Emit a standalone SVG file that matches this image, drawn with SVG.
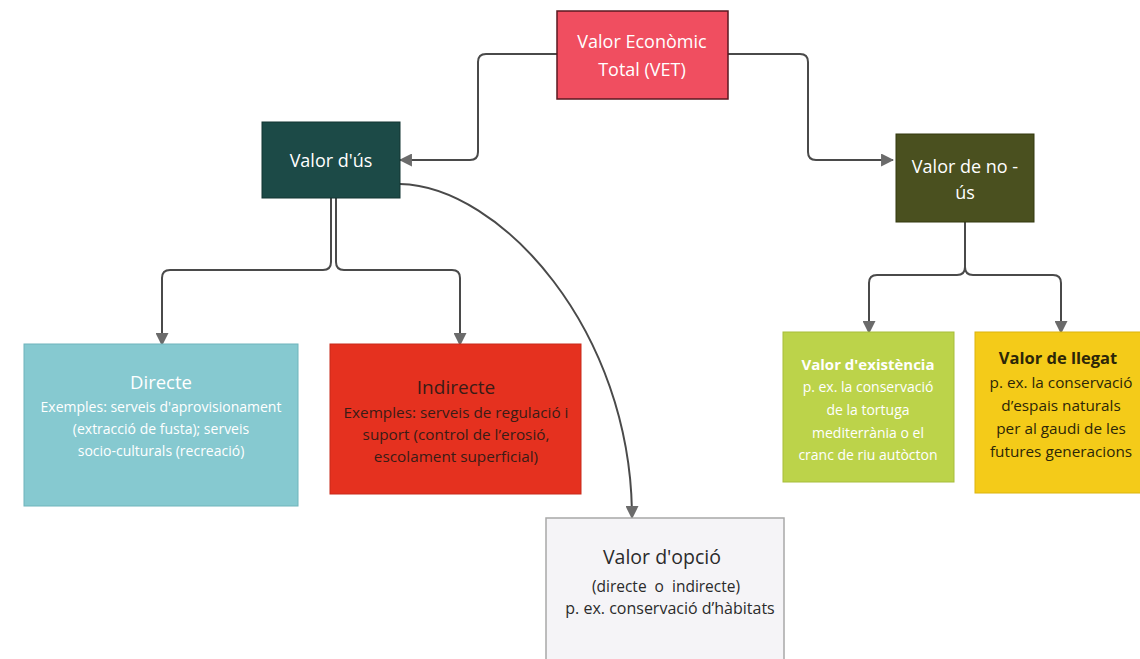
<svg xmlns="http://www.w3.org/2000/svg" width="1140" height="659" viewBox="0 0 1140 659">
<defs>
<marker id="arr" viewBox="0 0 12 12" refX="11" refY="6" markerWidth="13" markerHeight="13" markerUnits="userSpaceOnUse" orient="auto">
<path d="M0,0 L12,6 L0,12 Z" fill="#6b6b6b"/>
</marker>
<style>
.c{fill:none;stroke:#4a4a4a;stroke-width:2;}
text{font-family:"Open Sans","Noto Sans","Liberation Sans",sans-serif;text-anchor:middle;}
.t{font-size:18px;}
.s{font-size:14px;}
.w{fill:#ffffff;}
.d{fill:#2b2b2b;}
</style>
</defs>
<rect width="1140" height="659" fill="#ffffff"/>
<g id="connectors">
<path class="c" d="M557,54 H486 Q478,54 478,62 V152 Q478,160 470,160 H400" marker-end="url(#arr)"/>
<path class="c" d="M728,54 H800 Q808,54 808,62 V152 Q808,160 816,160 H893" marker-end="url(#arr)"/>
<path class="c" d="M331,198 V262 Q331,270 323,270 H170 Q162,270 162,278 V345" marker-end="url(#arr)"/>
<path class="c" d="M336,198 V262 Q336,270 344,270 H452 Q460,270 460,278 V345" marker-end="url(#arr)"/>
<path class="c" d="M400,184 C500,186 632,330 632,518" marker-end="url(#arr)" stroke-width="1.6"/>
<path class="c" d="M965,222 V267 Q965,275 957,275 H877 Q869,275 869,283 V333" marker-end="url(#arr)"/>
<path class="c" d="M965,222 V267 Q965,275 973,275 H1053 Q1061,275 1061,283 V333" marker-end="url(#arr)"/>
</g>
<g id="vet">
<rect x="557" y="11" width="171" height="88" fill="#f04e60" stroke="#5a1820" stroke-width="1.5"/>
<text class="t w" x="642" y="48">Valor Econòmic</text>
<text class="t w" x="642" y="76">Total (VET)</text>
</g>
<g id="valor-us">
<rect x="262" y="122" width="138" height="76" fill="#1c4a47" stroke="#123533" stroke-width="1"/>
<text class="t w" x="331" y="167">Valor d'ús</text>
</g>
<g id="valor-no-us">
<rect x="896" y="134" width="138" height="88" fill="#4a501f" stroke="#33380f" stroke-width="1"/>
<text class="t w" x="965" y="173">Valor de no -</text>
<text class="t w" x="965" y="199">ús</text>
</g>
<g id="directe">
<rect x="24" y="344" width="274" height="162" fill="#86c9d0" stroke="#6fb4bb" stroke-width="1"/>
<text class="w" x="161" y="389" font-size="18.5">Directe</text>
<text class="s w" x="161" y="412">Exemples: serveis d'aprovisionament</text>
<text class="s w" x="161" y="434">(extracció de fusta); serveis</text>
<text class="s w" x="161" y="456">socio-culturals (recreació)</text>
</g>
<g id="indirecte">
<rect x="330" y="344" width="251" height="150" fill="#e5311f" stroke="#c82a1a" stroke-width="1"/>
<text x="456" y="394" font-size="19" fill="#3a1c16">Indirecte</text>
<text x="456" y="418" font-size="15.3" fill="#3a1c16">Exemples: serveis de regulació i</text>
<text x="456" y="440" font-size="15.3" fill="#3a1c16">suport (control de l’erosió,</text>
<text x="456" y="462" font-size="15.3" fill="#3a1c16">escolament superficial)</text>
</g>
<g id="valor-opcio">
<rect x="546" y="518" width="238" height="150" fill="#f5f4f7" stroke="#a8a8a8" stroke-width="1.5"/>
<text class="d" x="662" y="564" font-size="19.5">Valor d'opció</text>
<text class="d" x="666" y="592" font-size="15.5" word-spacing="4">(directe o indirecte)</text>
<text class="d" x="670" y="614" font-size="16">p. ex. conservació d’hàbitats</text>
</g>
<g id="existencia">
<rect x="783" y="332" width="171" height="150" fill="#bcd34a" stroke="#a7bd3a" stroke-width="1"/>
<text class="w" x="868" y="370" font-size="15" font-weight="bold">Valor d'existència</text>
<text class="s w" x="868" y="392">p. ex. la conservació</text>
<text class="s w" x="868" y="415">de la tortuga</text>
<text class="s w" x="868" y="438">mediterrània o el</text>
<text class="s w" x="868" y="460">cranc de riu autòcton</text>
</g>
<g id="llegat">
<rect x="975" y="332" width="170" height="161" fill="#f4cb19" stroke="#dcb40f" stroke-width="1"/>
<text x="1058" y="364" font-size="16.5" font-weight="bold" fill="#2c2608">Valor de llegat</text>
<text x="1061" y="388" font-size="15.3" fill="#2c2608">p. ex. la conservació</text>
<text x="1061" y="411" font-size="15.3" fill="#2c2608">d’espais naturals</text>
<text x="1061" y="434" font-size="15.3" fill="#2c2608">per al gaudi de les</text>
<text x="1061" y="457" font-size="15.3" fill="#2c2608">futures generacions</text>
</g>
</svg>
